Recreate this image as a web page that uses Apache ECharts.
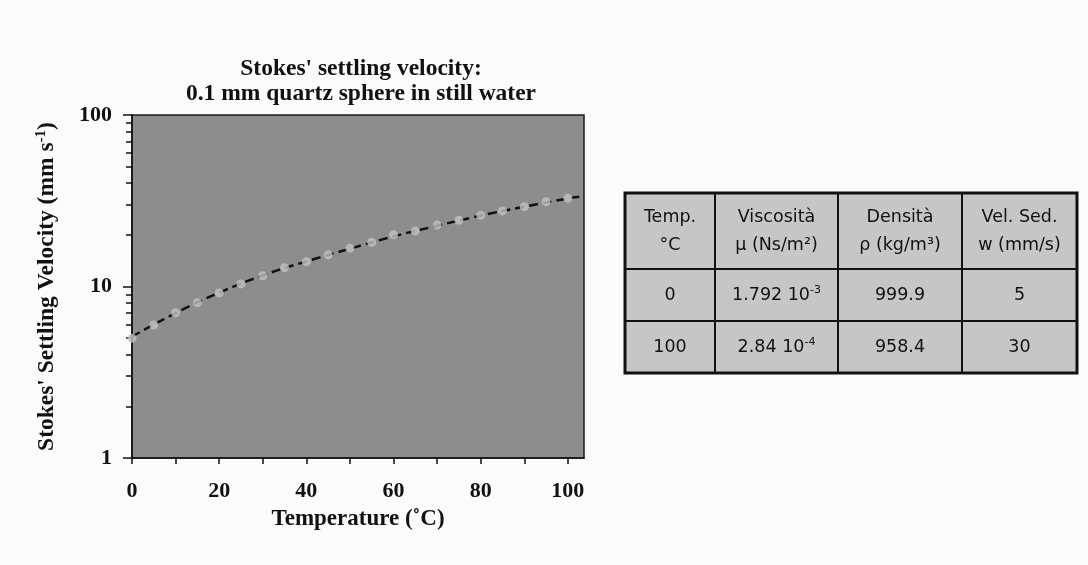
<!DOCTYPE html>
<html>
<head>
<meta charset="utf-8">
<script src="https://cdn.jsdelivr.net/npm/echarts@6/dist/echarts.min.js"></script>
<style>
html,body{margin:0;padding:0;background:#fbfbfb;}
#c{width:1088px;height:565px;}
</style>
</head>
<body>
<div id="c"></div>
<script>
// ---- data ----
const temperature = [0,5,10,15,20,25,30,35,40,45,50,55,60,65,70,75,80,85,90,95,100];
const velocity = [5.0,5.96,7.03,8.05,9.16,10.35,11.56,12.88,13.96,15.3,16.7,18.1,20.0,21.1,22.8,24.3,26.0,27.6,29.2,31.2,32.7];
// dashed fit line (runs to the right edge of the plot)
const fitTemp = [0,10,20,30,40,50,60,70,80,90,100,103.7];
const fitVel = [5.1,7.0,9.2,11.6,14.0,16.6,19.6,22.6,25.9,29.2,32.6,33.6];
const xTicks = [0,10,20,30,40,50,60,70,80,90,100];
const xLabels = [0,20,40,60,80,100];
const yMinorTicks = [2,3,4,5,6,7,8,9,20,30,40,50,60,70,80,90];
const yMajorTicks = [1,10,100];
const tableHeader = [['Temp.','°C'],['Viscosità','μ (Ns/m²)'],['Densità','ρ (kg/m³)'],['Vel. Sed.','w (mm/s)']];
const tableRows = [
  ['0','1.792 10{s|-3}','999.9','5'],
  ['100','2.84 10{s|-4}','958.4','30']
];

const chart = echarts.init(document.getElementById('c'));
const serif = 'Liberation Serif';
const tfont = 'DejaVu Sans';

// table graphic
const colX = [625, 715, 838, 962, 1077];
const rowY = [193, 269, 321, 373];
const g = [];
g.push({type:'rect', shape:{x:colX[0], y:rowY[0], width:colX[4]-colX[0], height:rowY[3]-rowY[0]},
  style:{fill:'#c6c6c6', stroke:'#111', lineWidth:3}, z:10});
for (let i=1;i<4;i++) g.push({type:'line', shape:{x1:colX[i],y1:rowY[0],x2:colX[i],y2:rowY[3]}, style:{stroke:'#111',lineWidth:2}, z:11});
for (let j=1;j<3;j++) g.push({type:'line', shape:{x1:colX[0],y1:rowY[j],x2:colX[4],y2:rowY[j]}, style:{stroke:'#111',lineWidth:2}, z:11});
const rich = {s:{fontSize:11, fontFamily:tfont, fill:'#111', verticalAlign:'top', padding:[0,0,9,0]}};
tableHeader.forEach((h,i)=>{
  const cx = (colX[i]+colX[i+1])/2;
  g.push({type:'text', x:cx, y:(rowY[0]+rowY[1])/2, z:12,
    style:{text:h[0]+'\n'+h[1], align:'center', verticalAlign:'middle', fontSize:17.5, lineHeight:28, fontFamily:tfont, fill:'#111', rich:rich}});
});
tableRows.forEach((r,j)=>{
  r.forEach((v,i)=>{
    const cx = (colX[i]+colX[i+1])/2;
    g.push({type:'text', x:cx, y:(rowY[j+1]+rowY[j+2])/2, z:12,
      style:{text:v, align:'center', verticalAlign:'middle', fontSize:17.5, fontFamily:tfont, fill:'#111', rich:rich}});
  });
});

chart.setOption({
  backgroundColor:'#fbfbfb',
  animation:false,
  title:{
    text:"Stokes' settling velocity:\n0.1 mm quartz sphere in still water",
    left:356, top:51, textAlign:'center',
    textStyle:{fontFamily:serif, fontWeight:'bold', fontSize:23.5, lineHeight:25, color:'#111'}
  },
  grid:{left:132, right:504, top:115, bottom:107, show:true, backgroundColor:'#8d8d8d', borderColor:'#1a1a1a', borderWidth:1.5},
  xAxis:{
    type:'value', min:0, max:103.7,
    name:'Temperature (˚C)', nameLocation:'middle', nameGap:50,
    nameTextStyle:{fontFamily:serif, fontWeight:'bold', fontSize:23, color:'#111'},
    axisLine:{lineStyle:{color:'#111', width:1.5}},
    axisTick:{show:true, inside:false, length:6, lineStyle:{color:'#111', width:1.5}, customValues:xTicks},
    axisLabel:{customValues:xLabels, fontFamily:serif, fontWeight:'bold', fontSize:22, color:'#111', margin:22},
    splitLine:{show:false}
  },
  yAxis:[{
    type:'log', logBase:10, min:1, max:100,
    name:"{b|Stokes' Settling Velocity (mm s}{sup|-1}{b|)}", nameLocation:'middle', nameGap:72, nameRotate:90,
    nameTextStyle:{rich:{
      b:{fontFamily:serif, fontWeight:'bold', fontSize:23.5, color:'#111', lineHeight:26},
      sup:{fontFamily:serif, fontWeight:'bold', fontSize:15, color:'#111', verticalAlign:'top', lineHeight:26}
    }},
    axisLine:{lineStyle:{color:'#111', width:1.5}},
    axisTick:{show:true, inside:false, length:9, lineStyle:{color:'#111', width:1.5}, customValues:yMajorTicks},
    axisLabel:{customValues:yMajorTicks, fontFamily:serif, fontWeight:'bold', fontSize:22, color:'#111', margin:20},
    splitLine:{show:false}, minorTick:{show:false}
  },{
    type:'log', logBase:10, min:1, max:100, position:'left',
    axisLine:{show:false},
    axisTick:{show:true, inside:false, length:6, lineStyle:{color:'#111', width:1.5}, customValues:yMinorTicks},
    axisLabel:{show:false}, splitLine:{show:false}
  }],
  series:[{
    type:'line', data:fitTemp.map((t,i)=>[t,fitVel[i]]), smooth:true, showSymbol:false,
    lineStyle:{color:'#111', width:2.5, type:[9,5]}, z:2
  },{
    type:'scatter', data:temperature.map((t,i)=>[t,velocity[i]]), symbol:'circle', symbolSize:9,
    itemStyle:{color:'#c2c2c2'}, z:3
  }],
  graphic:g
});
</script>
</body>
</html>
